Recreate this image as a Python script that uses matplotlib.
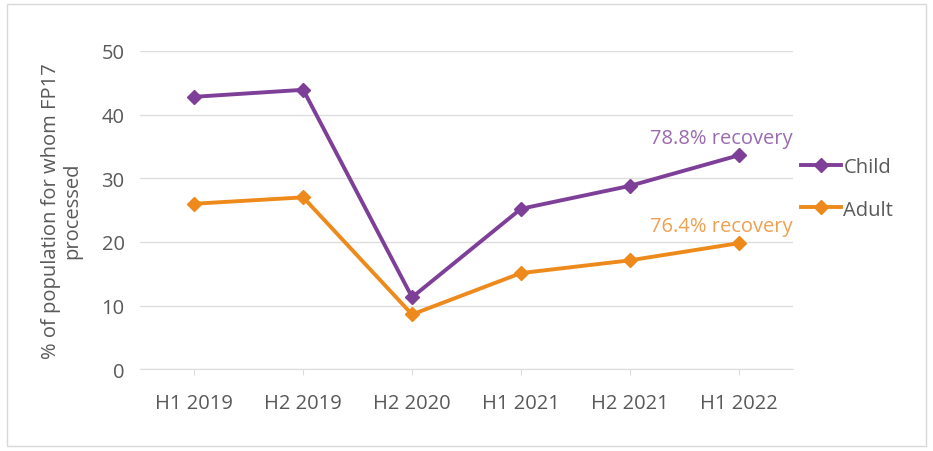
import matplotlib
matplotlib.use("Agg")
import matplotlib.pyplot as plt
from matplotlib.patches import Rectangle

categories = ["H1 2019", "H2 2019", "H2 2020", "H1 2021", "H2 2021", "H1 2022"]
child = [42.8, 43.9, 11.3, 25.2, 28.8, 33.6]
adult = [26.0, 27.0, 8.6, 15.1, 17.1, 19.8]
yticks = [0, 10, 20, 30, 40, 50]

purple = "#7E3F98"
orange = "#EE8A1C"
gray = "#595959"

plt.rcParams['font.family'] = ['Open Sans', 'DejaVu Sans']
FS = 14.5

fig = plt.figure(figsize=(9.33, 4.52), dpi=100)
ax = fig.add_axes([0.150, 0.181, 0.700, 0.704])

x = list(range(len(categories)))
ax.plot(x, child, color=purple, lw=2.8, marker="D", ms=7, label="Child", clip_on=False, zorder=3)
ax.plot(x, adult, color=orange, lw=2.8, marker="D", ms=7, label="Adult", clip_on=False, zorder=3)

ax.set_xlim(-0.5, len(categories) - 0.5)
ax.set_ylim(0, 50)
ax.set_yticks(yticks)
ax.set_xticks(x)
ax.set_xticklabels(categories)
ax.grid(axis="y", color="#DDDDDD", lw=1)
ax.set_axisbelow(True)
for s in ["top", "right", "left"]:
    ax.spines[s].set_visible(False)
ax.spines["bottom"].set_color("#DDDDDD")
ax.tick_params(axis="y", length=0, labelsize=FS, labelcolor=gray, pad=11)
ax.tick_params(axis="x", length=4, color="#DDDDDD", labelsize=FS, labelcolor=gray, pad=13)

ax.set_ylabel("% of population for whom FP17\nprocessed", fontsize=FS, color=gray, labelpad=14, linespacing=1.05)

ax.text(5.5, child[-1] + 1.1, "78.8% recovery", color="#9B6BB0", fontsize=FS, ha="right", va="bottom")
ax.text(5.5, adult[-1] + 1.1, "76.4% recovery", color="#F0A050", fontsize=FS, ha="right", va="bottom")

leg = ax.legend(loc="center left", bbox_to_anchor=(1.0, 0.568), frameon=False, fontsize=FS,
                labelcolor=gray, handlelength=2.0, handletextpad=0.1, labelspacing=1.1, borderaxespad=0)

fig.patches.append(Rectangle((0.008, 0.012), 0.984, 0.976, transform=fig.transFigure,
                             fill=False, edgecolor="#D9D9D9", lw=1))

fig.savefig("out.png", dpi=100)
